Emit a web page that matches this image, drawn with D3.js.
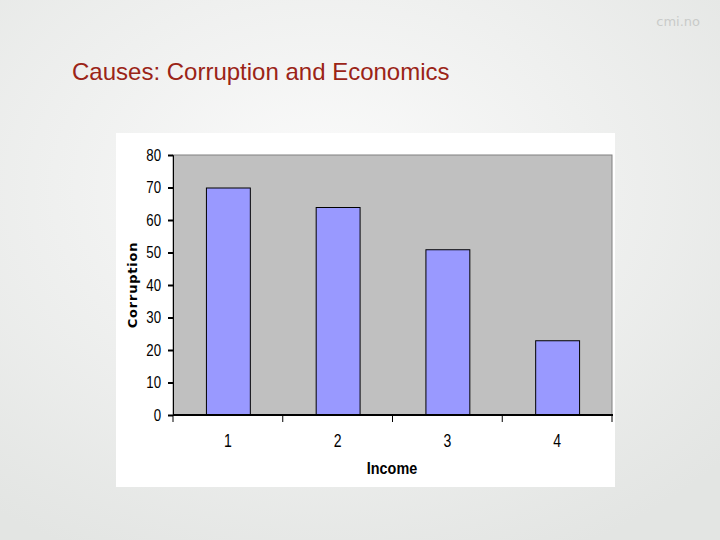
<!DOCTYPE html>
<html>
<head>
<meta charset="utf-8">
<script src="https://cdn.jsdelivr.net/npm/d3@7"></script>
<style>
  body { margin: 0; }
  svg { display: block; }
</style>
</head>
<body>
<div id="chart"></div>
<script>
const WIDTH = 720;
const HEIGHT = 540;

const categories = ["1", "2", "3", "4"];
const values = [70, 64, 51, 23];
const yTicks = [0, 10, 20, 30, 40, 50, 60, 70, 80];

const PLOT = { LEFT: 173, RIGHT: 612, TOP: 155, BOTTOM: 415 };
const NARROW = 0.78;

const svg = d3.select('#chart')
  .append('svg')
    .attr('width', WIDTH)
    .attr('height', HEIGHT);

// slide background
const defs = svg.append('defs');
const grad = defs.append('radialGradient')
  .attr('id', 'bg')
  .attr('cx', '45%').attr('cy', '35%').attr('r', '75%');
grad.append('stop').attr('offset', '0%').attr('stop-color', '#fbfbfb');
grad.append('stop').attr('offset', '100%').attr('stop-color', '#e3e5e3');

svg.append('rect')
  .attr('width', WIDTH).attr('height', HEIGHT)
  .attr('fill', 'url(#bg)');

svg.append('text')
  .attr('x', 700).attr('y', 26)
  .attr('text-anchor', 'end')
  .style('font-family', 'DejaVu Sans, sans-serif')
  .style('font-size', '13px')
  .style('fill', '#c9cbc9')
  .text('cmi.no');

svg.append('text')
  .attr('x', 72).attr('y', 80)
  .style('font-family', 'Liberation Sans, Arial, sans-serif')
  .style('font-size', '24px')
  .style('fill', '#9b2417')
  .text('Causes: Corruption and Economics');

// chart box
svg.append('rect')
  .attr('x', 116).attr('y', 133)
  .attr('width', 499).attr('height', 354)
  .attr('fill', '#ffffff');

const x = d3.scaleBand()
  .domain(categories)
  .range([PLOT.LEFT, PLOT.RIGHT])
  .paddingInner(0.6)
  .paddingOuter(0.3);

const y = d3.scaleLinear()
  .domain([0, 80])
  .range([PLOT.BOTTOM, PLOT.TOP]);

svg.append('rect')
  .attr('x', PLOT.LEFT).attr('y', PLOT.TOP)
  .attr('width', PLOT.RIGHT - PLOT.LEFT)
  .attr('height', PLOT.BOTTOM - PLOT.TOP)
  .attr('fill', '#c0c0c0')
  .attr('stroke', '#808080')
  .attr('stroke-width', 1);

svg.append('g')
  .selectAll('rect')
  .data(values)
  .join('rect')
    .attr('x', (d, i) => x(categories[i]) + 0.5)
    .attr('y', d => y(d) + 0.5)
    .attr('width', x.bandwidth())
    .attr('height', d => y(0) - y(d))
    .attr('fill', '#9999ff')
    .attr('stroke', '#000000')
    .attr('stroke-width', 1);

// y axis
const yAxis = svg.append('g')
  .attr('transform', `translate(${PLOT.LEFT},0)`)
  .call(d3.axisLeft(y).tickValues(yTicks).tickSize(5).tickPadding(6));
yAxis.select('.domain').attr('stroke', '#000').attr('stroke-width', 1);
yAxis.selectAll('line').attr('stroke', '#000').attr('stroke-width', 2);
yAxis.selectAll('text')
  .attr('x', -12 / NARROW)
  .attr('transform', `scale(${NARROW},1)`)
  .style('font-family', 'Liberation Sans, Arial, sans-serif')
  .style('font-size', '17px')
  .style('fill', '#000');

// x axis: ticks at band boundaries
const xAxisG = svg.append('g')
  .attr('transform', `translate(0,${PLOT.BOTTOM})`);
xAxisG.append('line')
  .attr('x1', PLOT.LEFT).attr('x2', PLOT.RIGHT + 1)
  .attr('stroke', '#000').attr('stroke-width', 2);
const bounds = categories.map(c => x(c) - x.step() * x.paddingInner() / 2)
  .concat([PLOT.RIGHT]);
bounds[0] = PLOT.LEFT;
xAxisG.selectAll('.tk')
  .data(bounds)
  .join('line')
    .attr('class', 'tk')
    .attr('x1', d => d).attr('x2', d => d)
    .attr('y1', 0).attr('y2', 7)
    .attr('stroke', '#000').attr('stroke-width', 1);
xAxisG.selectAll('.lbl')
  .data(categories)
  .join('text')
    .attr('class', 'lbl')
    .attr('transform', d => `translate(${x(d) + x.bandwidth() / 2},32) scale(${NARROW},1)`)
    .attr('text-anchor', 'middle')
    .style('font-family', 'Liberation Sans, Arial, sans-serif')
    .style('font-size', '18px')
    .text(d => d);

svg.append('text')
  .attr('transform', `translate(392,474) scale(0.9,1)`)
  .attr('text-anchor', 'middle')
  .style('font-family', 'Liberation Sans, Arial, sans-serif')
  .style('font-weight', 'bold')
  .style('font-size', '16px')
  .text('Income');

svg.append('text')
  .attr('transform', 'translate(137,285) rotate(-90)')
  .attr('text-anchor', 'middle')
  .style('font-family', 'DejaVu Sans, Verdana, sans-serif')
  .style('font-weight', 'bold')
  .style('font-size', '13px')
  .style('letter-spacing', '0.8px')
  .text('Corruption');
</script>
</body>
</html>
